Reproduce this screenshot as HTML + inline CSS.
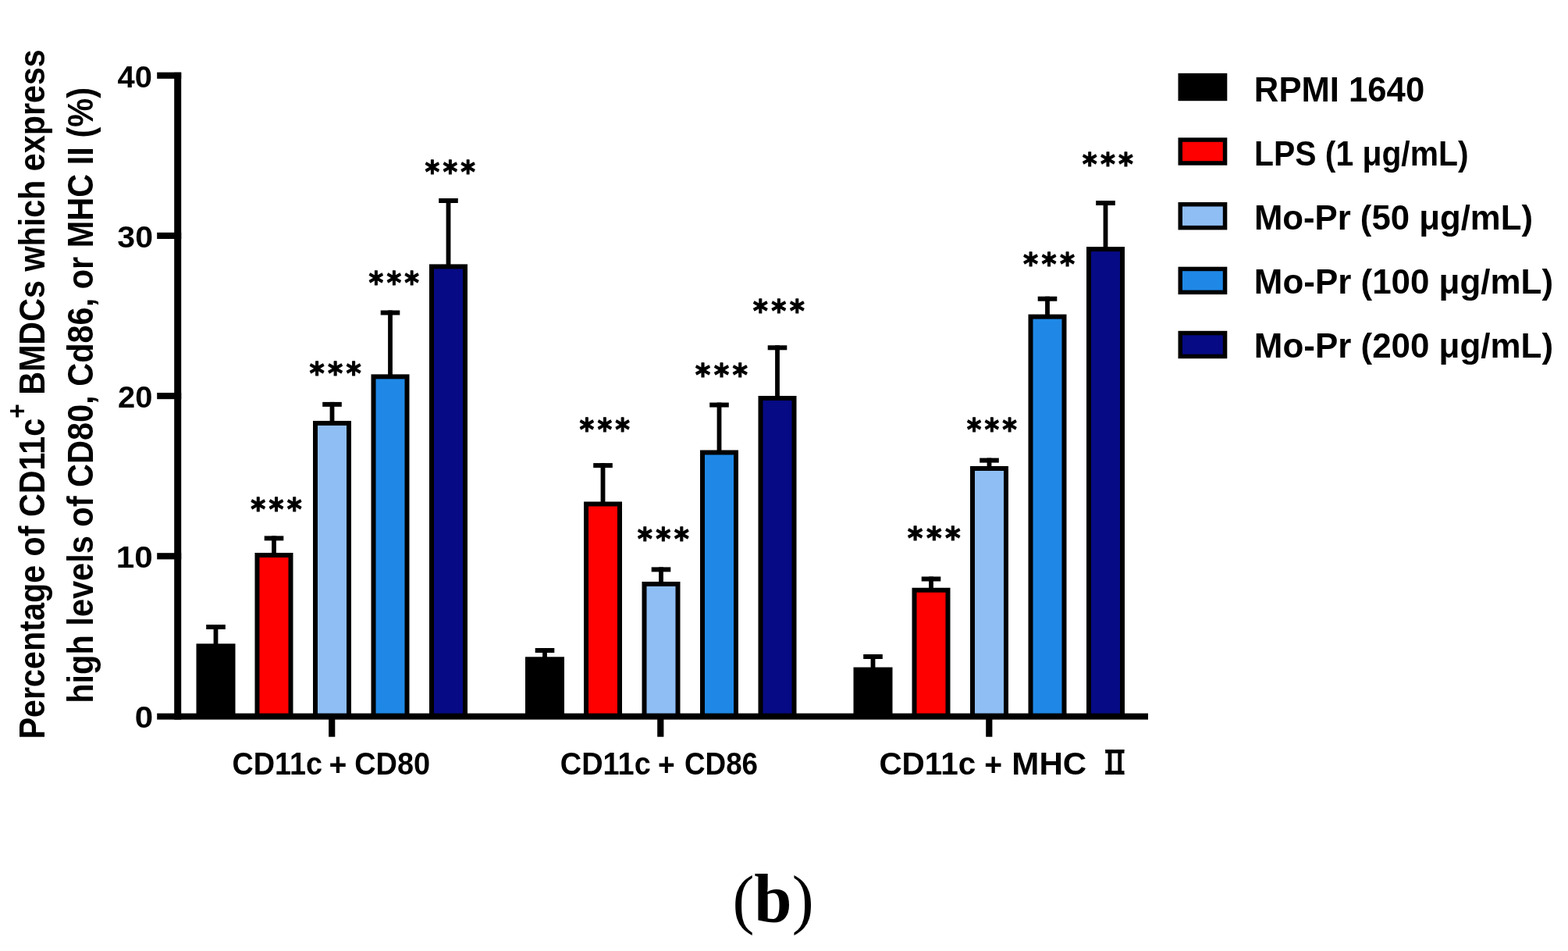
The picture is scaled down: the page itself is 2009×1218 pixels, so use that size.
<!DOCTYPE html>
<html lang="en"><head><meta charset="utf-8"><title>CD11c+ BMDC maturation markers (b)</title>
<style>
html,body{margin:0;padding:0;background:#fff;overflow:hidden;}
svg{display:block;}
text{font-family:"Liberation Sans",Arial,sans-serif;font-weight:bold;fill:#000;}
.ser{font-family:"Liberation Serif","Times New Roman",serif;}
.ast{font-family:"DejaVu Sans","Liberation Sans",sans-serif;}
.cjk{font-family:"Noto Serif CJK SC","Liberation Serif",serif;}
</style></head>
<body>
<svg width="2009" height="1218" viewBox="0 0 2009 1218">
<rect x="0" y="0" width="2009" height="1218" fill="#fff"/>
<g id="bars">
<rect x="273.6" y="800" width="5.8" height="26.4" fill="#000"/><rect x="264.2" y="800" width="24.6" height="6" fill="#000"/><rect x="251.5" y="824.4" width="50" height="93.2" fill="#000"/>
<rect x="348.1" y="686.4" width="5.8" height="23.6" fill="#000"/><rect x="338.7" y="686.4" width="24.6" height="6" fill="#000"/><rect x="326.5" y="708" width="49" height="209.6" fill="#000"/><rect x="332.5" y="714" width="37" height="203.6" fill="#fe0000"/>
<rect x="422.6" y="514.9" width="5.8" height="26.1" fill="#000"/><rect x="413.2" y="514.9" width="24.6" height="6" fill="#000"/><rect x="401" y="539" width="49" height="378.6" fill="#000"/><rect x="407" y="545" width="37" height="372.6" fill="#8fbef5"/>
<rect x="497.1" y="397.5" width="5.8" height="83.9" fill="#000"/><rect x="487.7" y="397.5" width="24.6" height="6" fill="#000"/><rect x="475.5" y="479.4" width="49" height="438.2" fill="#000"/><rect x="481.5" y="485.4" width="37" height="432.2" fill="#1f88e6"/>
<rect x="571.6" y="254" width="5.8" height="86.4" fill="#000"/><rect x="562.2" y="254" width="24.6" height="6" fill="#000"/><rect x="550" y="338.4" width="49" height="579.2" fill="#000"/><rect x="556" y="344.4" width="37" height="573.2" fill="#060a84"/>
<rect x="695.1" y="830" width="5.8" height="13.3" fill="#000"/><rect x="685.7" y="830" width="24.6" height="6" fill="#000"/><rect x="673" y="841.3" width="50" height="76.3" fill="#000"/>
<rect x="769.6" y="593.1" width="5.8" height="51.4" fill="#000"/><rect x="760.2" y="593.1" width="24.6" height="6" fill="#000"/><rect x="748" y="642.5" width="49" height="275.1" fill="#000"/><rect x="754" y="648.5" width="37" height="269.1" fill="#fe0000"/>
<rect x="844.1" y="726.4" width="5.8" height="20.6" fill="#000"/><rect x="834.7" y="726.4" width="24.6" height="6" fill="#000"/><rect x="822.5" y="745" width="49" height="172.6" fill="#000"/><rect x="828.5" y="751" width="37" height="166.6" fill="#8fbef5"/>
<rect x="918.6" y="515.6" width="5.8" height="62.9" fill="#000"/><rect x="909.2" y="515.6" width="24.6" height="6" fill="#000"/><rect x="897" y="576.5" width="49" height="341.1" fill="#000"/><rect x="903" y="582.5" width="37" height="335.1" fill="#1f88e6"/>
<rect x="993.1" y="442.3" width="5.8" height="66.7" fill="#000"/><rect x="983.7" y="442.3" width="24.6" height="6" fill="#000"/><rect x="971.5" y="507" width="49" height="410.6" fill="#000"/><rect x="977.5" y="513" width="37" height="404.6" fill="#060a84"/>
<rect x="1115.6" y="838" width="5.8" height="18.6" fill="#000"/><rect x="1106.2" y="838" width="24.6" height="6" fill="#000"/><rect x="1093.5" y="854.6" width="50" height="63" fill="#000"/>
<rect x="1190.1" y="738.5" width="5.8" height="16.3" fill="#000"/><rect x="1180.7" y="738.5" width="24.6" height="6" fill="#000"/><rect x="1168.5" y="752.8" width="49" height="164.8" fill="#000"/><rect x="1174.5" y="758.8" width="37" height="158.8" fill="#fe0000"/>
<rect x="1264.6" y="586.6" width="5.8" height="12.4" fill="#000"/><rect x="1255.2" y="586.6" width="24.6" height="6" fill="#000"/><rect x="1243" y="597" width="49" height="320.6" fill="#000"/><rect x="1249" y="603" width="37" height="314.6" fill="#8fbef5"/>
<rect x="1339.1" y="379.7" width="5.8" height="24.9" fill="#000"/><rect x="1329.7" y="379.7" width="24.6" height="6" fill="#000"/><rect x="1317.5" y="402.6" width="49" height="515" fill="#000"/><rect x="1323.5" y="408.6" width="37" height="509" fill="#1f88e6"/>
<rect x="1413.6" y="257" width="5.8" height="61.1" fill="#000"/><rect x="1404.2" y="257" width="24.6" height="6" fill="#000"/><rect x="1392" y="316.1" width="49" height="601.5" fill="#000"/><rect x="1398" y="322.1" width="37" height="595.5" fill="#060a84"/>
</g>
<g id="axes" fill="#000">
<rect x="223.2" y="92.8" width="9.0" height="828.8"/>
<rect x="201.2" y="913.6" width="1269.8" height="8"/>
<rect x="201.2" y="708.2" width="31" height="8.2"/>
<rect x="201.2" y="503" width="31" height="8.2"/>
<rect x="201.2" y="297.8" width="31" height="8.2"/>
<rect x="201.2" y="92.6" width="31" height="8.2"/>
<rect x="421.1" y="915" width="8.2" height="28.7"/>
<rect x="842.2" y="915" width="8.2" height="28.7"/>
<rect x="1263.2" y="915" width="8.2" height="28.7"/>
</g>
<g id="labels">
<text x="1606.89" y="129.9" font-size="43.5" textLength="218.27" lengthAdjust="spacingAndGlyphs">RPMI 1640</text>
<text x="1607.09" y="211.9" font-size="43.5" textLength="274.4" lengthAdjust="spacingAndGlyphs">LPS (1 μg/mL)</text>
<text x="1606.89" y="293.6" font-size="43.5" textLength="357.07" lengthAdjust="spacingAndGlyphs">Mo-Pr (50 μg/mL)</text>
<text x="1606.87" y="375.7" font-size="43.5" textLength="383.19" lengthAdjust="spacingAndGlyphs">Mo-Pr (100 μg/mL)</text>
<text x="1606.87" y="458" font-size="43.5" textLength="383.19" lengthAdjust="spacingAndGlyphs">Mo-Pr (200 μg/mL)</text>
<text x="297.39" y="991.8" font-size="41.2" textLength="115.6" lengthAdjust="spacingAndGlyphs">CD11c</text>
<text x="421.44" y="992.8" font-size="41.2" font-weight="normal" textLength="22.84" lengthAdjust="spacingAndGlyphs">+</text>
<text x="454.19" y="991.8" font-size="41.2" textLength="96.98" lengthAdjust="spacingAndGlyphs">CD80</text>
<text x="717.79" y="991.8" font-size="41.2" textLength="116.01" lengthAdjust="spacingAndGlyphs">CD11c</text>
<text x="843.12" y="992.8" font-size="41.2" font-weight="normal" textLength="21.69" lengthAdjust="spacingAndGlyphs">+</text>
<text x="876.94" y="991.8" font-size="41.2" textLength="94.16" lengthAdjust="spacingAndGlyphs">CD86</text>
<text x="1126.38" y="991.8" font-size="41.2" textLength="123.79" lengthAdjust="spacingAndGlyphs">CD11c</text>
<text x="1261.24" y="992.8" font-size="41.2" font-weight="normal" textLength="22.84" lengthAdjust="spacingAndGlyphs">+</text>
<text x="1296.39" y="991.8" font-size="41.2" textLength="95.79" lengthAdjust="spacingAndGlyphs">MHC</text>
<text x="1410.8" y="991.8" class="cjk" font-size="42.4" font-weight="bold" textLength="35.22" lengthAdjust="spacingAndGlyphs">Ⅱ</text>
<text transform="translate(56.8,946.42) rotate(-90)" x="0" y="0" font-size="45.5" textLength="883.24" lengthAdjust="spacingAndGlyphs">Percentage of CD11c<tspan font-size="35" dy="-22.7">+</tspan><tspan dy="22.7"> BMDCs which express</tspan></text>
<text transform="translate(118.8,900.76) rotate(-90)" x="0" y="0" font-size="45.5" textLength="788.72" lengthAdjust="spacingAndGlyphs">high levels of CD80, Cd86, or MHC II (%)</text>
<text x="938.4" y="1180.8" class="ser" font-size="88" textLength="104.18" lengthAdjust="spacingAndGlyphs"><tspan font-weight="normal" font-size="85" dy="-0.6">(</tspan><tspan dy="0.6">b</tspan><tspan font-weight="normal" font-size="85" dy="-0.6">)</tspan></text>
<text x="172.7" y="932.3" font-size="39.5" textLength="23.43" lengthAdjust="spacingAndGlyphs">0</text>
<text x="148.83" y="726.8" font-size="39.5" textLength="46.98" lengthAdjust="spacingAndGlyphs">10</text>
<text x="151.14" y="521.6" font-size="39.5" textLength="44.37" lengthAdjust="spacingAndGlyphs">20</text>
<text x="150.36" y="316.6" font-size="39.5" textLength="45.7" lengthAdjust="spacingAndGlyphs">30</text>
<text x="150.49" y="111.5" font-size="39.5" textLength="44.41" lengthAdjust="spacingAndGlyphs">40</text>
<rect x="1416.2" y="960.2" width="24.3" height="4.5" fill="#000"/><rect x="1416.2" y="987.2" width="24.3" height="4.6" fill="#000"/>
</g>
<g id="sig">
<text x="321.37" y="666.23" class="ast" font-size="39.4" letter-spacing="4.6" stroke="#000" stroke-width="1.1" stroke-linejoin="round" textLength="69.71" lengthAdjust="spacingAndGlyphs">***</text>
<text x="396.57" y="492.23" class="ast" font-size="39.4" letter-spacing="4.6" stroke="#000" stroke-width="1.1" stroke-linejoin="round" textLength="70.57" lengthAdjust="spacingAndGlyphs">***</text>
<text x="472.57" y="376.07" class="ast" font-size="39.4" letter-spacing="4.6" stroke="#000" stroke-width="1.1" stroke-linejoin="round" textLength="68.64" lengthAdjust="spacingAndGlyphs">***</text>
<text x="544.57" y="234.07" class="ast" font-size="39.4" letter-spacing="4.6" stroke="#000" stroke-width="1.1" stroke-linejoin="round" textLength="68.64" lengthAdjust="spacingAndGlyphs">***</text>
<text x="742.57" y="564.08" class="ast" font-size="39.4" letter-spacing="4.6" stroke="#000" stroke-width="1.1" stroke-linejoin="round" textLength="68.64" lengthAdjust="spacingAndGlyphs">***</text>
<text x="816.87" y="703.83" class="ast" font-size="39.4" letter-spacing="4.6" stroke="#000" stroke-width="1.1" stroke-linejoin="round" textLength="70.25" lengthAdjust="spacingAndGlyphs">***</text>
<text x="890.86" y="494.23" class="ast" font-size="39.4" letter-spacing="4.6" stroke="#000" stroke-width="1.1" stroke-linejoin="round" textLength="71.53" lengthAdjust="spacingAndGlyphs">***</text>
<text x="964.87" y="412.23" class="ast" font-size="39.4" letter-spacing="4.6" stroke="#000" stroke-width="1.1" stroke-linejoin="round" textLength="70.25" lengthAdjust="spacingAndGlyphs">***</text>
<text x="1162.86" y="703.33" class="ast" font-size="39.4" letter-spacing="4.6" stroke="#000" stroke-width="1.1" stroke-linejoin="round" textLength="72.07" lengthAdjust="spacingAndGlyphs">***</text>
<text x="1238.77" y="564.17" class="ast" font-size="39.4" letter-spacing="4.6" stroke="#000" stroke-width="1.1" stroke-linejoin="round" textLength="68.42" lengthAdjust="spacingAndGlyphs">***</text>
<text x="1311.07" y="351.62" class="ast" font-size="39.4" letter-spacing="4.6" stroke="#000" stroke-width="1.1" stroke-linejoin="round" textLength="70.25" lengthAdjust="spacingAndGlyphs">***</text>
<text x="1386.77" y="224.07" class="ast" font-size="39.4" letter-spacing="4.6" stroke="#000" stroke-width="1.1" stroke-linejoin="round" textLength="69.5" lengthAdjust="spacingAndGlyphs">***</text>
</g>
<g id="legend">
<rect x="1509.5" y="93.8" width="62.8" height="35.4" fill="#000"/>
<rect x="1509.5" y="176.3" width="62.8" height="35.4" fill="#000"/><rect x="1515" y="181.8" width="51.8" height="24.4" fill="#fe0000"/>
<rect x="1509.5" y="259.0" width="62.8" height="35.4" fill="#000"/><rect x="1515" y="264.5" width="51.8" height="24.4" fill="#8fbef5"/>
<rect x="1509.5" y="341.7" width="62.8" height="35.4" fill="#000"/><rect x="1515" y="347.2" width="51.8" height="24.4" fill="#1f88e6"/>
<rect x="1509.5" y="423.8" width="62.8" height="35.4" fill="#000"/><rect x="1515" y="429.3" width="51.8" height="24.4" fill="#060a84"/>
</g>
</svg>
</body></html>
